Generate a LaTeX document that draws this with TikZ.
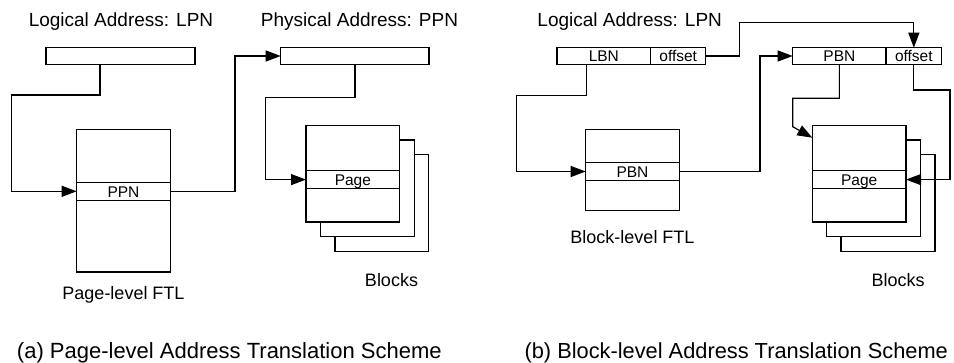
\documentclass[tikz,border=0pt]{standalone}
\usepackage{fontspec}
\setmainfont{Liberation Sans}
\usetikzlibrary{arrows.meta}
\begin{document}
\begin{tikzpicture}[x=1pt,y=-1pt, line width=1.2pt,
  box/.style={draw, fill=white, inner sep=0pt, outer sep=0pt},
  celltext/.style={font=\fontsize{15.5}{16}\selectfont, text height=12pt, text depth=0pt},
  lab/.style={font=\fontsize{18}{20}\selectfont, anchor=base, inner sep=0pt},
  ttl/.style={font=\fontsize{19}{22}\selectfont, anchor=base, inner sep=0pt},
  capt/.style={font=\fontsize{22}{26}\selectfont, anchor=base, inner sep=0pt},
  arr/.style={-{Triangle[length=15pt,width=11pt]}, line join=miter}]
\useasboundingbox (0,0) rectangle (954,363);
% ---------- (a) ----------
\node[ttl] (tLA) at (121,26.7) {Logical Address: LPN};
\node[ttl] (tPA) at (359.5,26.7) {Physical Address: PPN};
\node[box, minimum width=149pt, minimum height=16.6pt] (lpnA) at (120.5,56) {};
\node[box, minimum width=148.3pt, minimum height=16.6pt] (phyA) at (354.85,56) {};
\node[box, minimum width=93.6pt, minimum height=142.7pt] (ftlA) at (123.5,200.65) {};
\node[box, celltext, minimum width=93.6pt, minimum height=18pt] (ppnA) at (123.5,191.3) {PPN};
\node[lab] (ftlAlab) at (123.5,300) {Page-level FTL};
\node[box, minimum width=93.7pt, minimum height=97pt] (b3A) at (381.85,202.8) {};
\node[box, minimum width=93.6pt, minimum height=96.7pt] (b2A) at (367.5,188.35) {};
\node[box, minimum width=93.7pt, minimum height=96.3pt] (b1A) at (352.85,173.85) {};
\node[box, celltext, minimum width=93.7pt, minimum height=17.8pt] (pageA) at (352.85,179.6) {Page};
\node[lab] (blkA) at (391.5,287) {Blocks};
\node[capt] (capA) at (229.3,359) {(a) Page-level Address Translation Scheme};
\draw[arr] (100,0 |- lpnA.south) -- (100,95) -- (11.7,95) |- (ppnA.west);
\draw[arr] (ppnA.east) -- (235,0 |- ppnA.east) |- (phyA.west);
\draw[arr] (355,0 |- phyA.south) -- (355,97.7) -- (265.7,97.7) |- (pageA.west);
% ---------- (b) ----------
\node[ttl] (tLB) at (629.7,26.7) {Logical Address: LPN};
\node[box, celltext, minimum width=93.7pt, minimum height=16.6pt] (lbnB) at (603.85,56) {LBN};
\node[box, celltext, minimum width=55pt, minimum height=16.6pt] (offB) at (678.2,56) {offset};
\node[box, celltext, minimum width=93.3pt, minimum height=16.6pt] (pbnP) at (839.35,56) {PBN};
\node[box, celltext, minimum width=55.7pt, minimum height=16.6pt] (offP) at (913.85,56) {offset};
\node[box, minimum width=93.6pt, minimum height=81pt] (ftlB) at (632.5,169.8) {};
\node[box, celltext, minimum width=93.6pt, minimum height=17.6pt] (pbnT) at (632.5,171.5) {PBN};
\node[lab] (ftlBlab) at (632.5,243.7) {Block-level FTL};
\node[box, minimum width=94pt, minimum height=97pt] (b3B) at (888,202.8) {};
\node[box, minimum width=94pt, minimum height=96.7pt] (b2B) at (873.7,188.35) {};
\node[box, minimum width=93.7pt, minimum height=96.3pt] (b1B) at (859.15,173.85) {};
\node[box, celltext, minimum width=93.7pt, minimum height=17.8pt] (pageB) at (859.15,179.6) {Page};
\node[lab] (blkB) at (898.2,287) {Blocks};
\node[capt, anchor=base west, font=\fontsize{21.8}{26}\selectfont] (capB) at (524,359) {(b) Block-level Address Translation Scheme};
\draw[arr] (offB.east) -| (739.3,22.3) -| (offP.north);
\draw[arr] (586.7,0 |- lbnB.south) -- (586.7,95.7) -- (516.7,95.7) |- (pbnT.west);
\draw[arr] (pbnT.east) -- (760,0 |- pbnT.east) |- (pbnP.west);
\draw[arr] (839.35,0 |- pbnP.south) -- (839.35,98.3) -- (792.7,98.3) -- (792.7,126.7) -- ([yshift=-12pt]b1B.north west);
\draw[arr] (offP.south) -- (offP.south |- 0,90) -- (950,90) |- (pageB.east);
\end{tikzpicture}
\end{document}
